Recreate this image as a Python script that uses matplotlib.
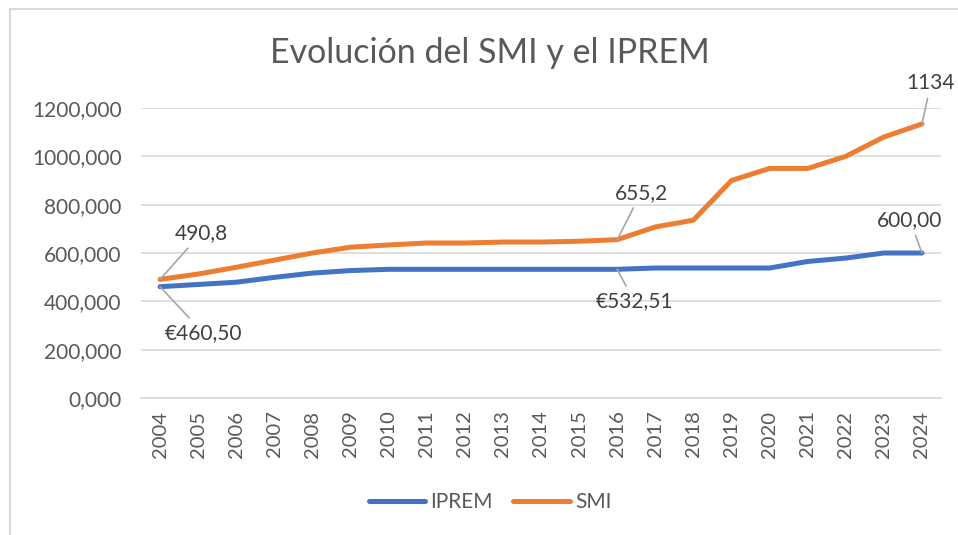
import matplotlib.pyplot as plt
from matplotlib.patches import Rectangle
from matplotlib.ticker import FuncFormatter

years = list(range(2004, 2025))
iprem = [460.50, 469.80, 479.10, 499.20, 516.90, 527.24, 532.51, 532.51, 532.51, 532.51,
         532.51, 532.51, 532.51, 537.84, 537.84, 537.84, 537.84, 564.90, 579.02, 600.00, 600.00]
smi = [490.8, 513.0, 540.9, 570.6, 600.0, 624.0, 633.3, 641.4, 641.4, 645.3,
       645.3, 648.6, 655.2, 707.6, 735.9, 900.0, 950.0, 950.0, 1000.0, 1080.0, 1134.0]

plt.rcParams['font.family'] = ['Lato', 'DejaVu Sans']
txt = '#595959'
grid = '#d9d9d9'

fig = plt.figure(figsize=(9.58, 5.35), dpi=100)
# marco del gráfico
fig.patches.append(Rectangle((10 / 958, -0.1), 1.1, 1 - 9 / 535 + 0.1, transform=fig.transFigure,
                             fill=False, edgecolor=grid, linewidth=1.5))
ax = fig.add_axes([141 / 958, 1 - 398 / 535, 800 / 958, 290 / 535])

x = list(range(len(years)))
ax.plot(x, iprem, color='#4472C4', lw=3.6, solid_capstyle='round', label='IPREM')
ax.plot(x, smi, color='#ED7D31', lw=3.6, solid_capstyle='round', label='SMI')

ax.set_xlim(-0.5, len(years) - 0.5)
ax.set_ylim(0, 1200)
ax.set_yticks(range(0, 1201, 200))
ax.yaxis.set_major_formatter(FuncFormatter(lambda v, p: f'{v:.3f}'.replace('.', ',')))
ax.set_xticks(x)
ax.set_xticklabels([str(y) for y in years], rotation=90)
ax.grid(axis='y', color=grid, lw=1.2)
ax.set_axisbelow(True)
for s in ['top', 'right', 'left']:
    ax.spines[s].set_visible(False)
ax.spines['bottom'].set_color(grid)
ax.spines['bottom'].set_linewidth(1.2)
ax.tick_params(length=0, labelcolor=txt)
ax.tick_params(axis='y', pad=14, labelsize=15)
ax.tick_params(axis='x', pad=9, labelsize=14.5)

# etiquetas de datos
def label(i, vals, text, dx, dy):
    ax.annotate(text, xy=(i, vals[i]), xytext=(dx, dy), textcoords='offset pixels',
                ha='center', va='center', fontsize=15, color='#404040',
                arrowprops=dict(arrowstyle='-', color='#a6a6a6', lw=1.2, shrinkA=2, shrinkB=0),
                annotation_clip=False)

label(0, smi, '490,8', 41, 46)
label(0, iprem, '€460,50', 43, -46)
label(12, smi, '655,2', 24, 47)
label(12, iprem, '€532,51', 17, -32)
label(20, iprem, '600,00', -12, 33)
label(20, smi, '1134', 9, 41)

fig.suptitle('Evolución del SMI y el IPREM', x=490 / 958, y=1 - 53 / 535, va='center',
             fontsize=24.5, color=txt)
fig.legend(loc='center', bbox_to_anchor=(490 / 958, 1 - 502 / 535), ncol=2, frameon=False,
           fontsize=15, labelcolor=txt, handlelength=2.7, columnspacing=1.0, handletextpad=0.25)

fig.savefig('out.png', dpi=100)
